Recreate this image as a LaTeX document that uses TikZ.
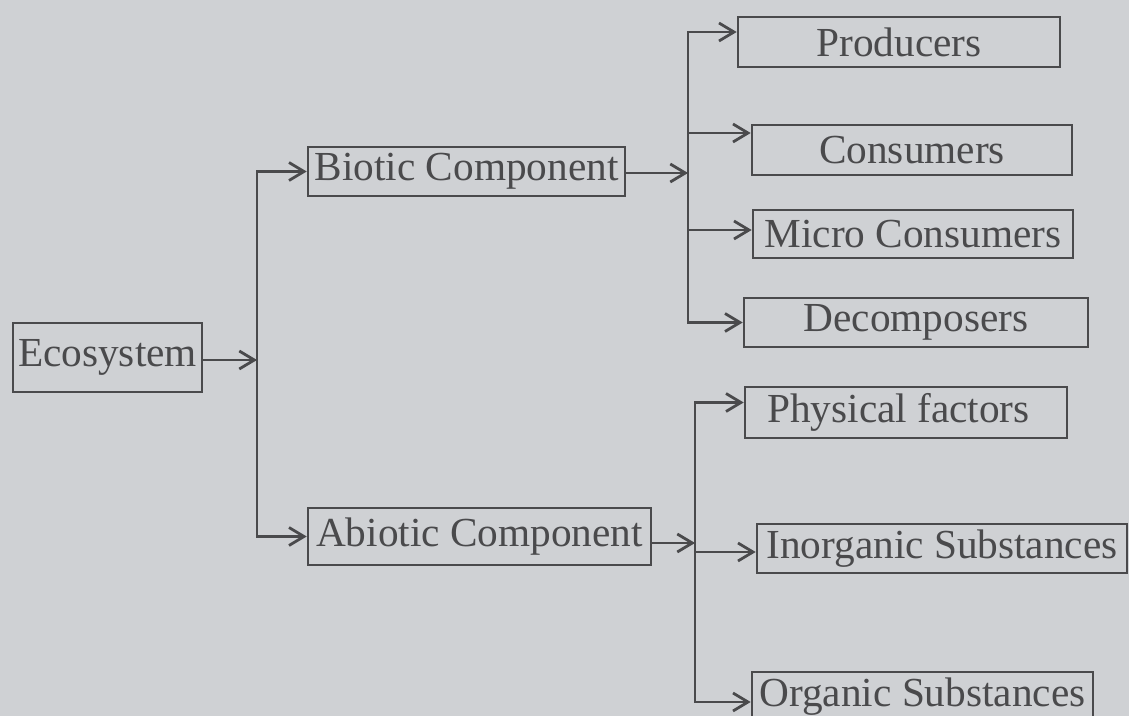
\documentclass[tikz,border=0pt]{standalone}
\usepackage{fontspec}
\setmainfont{Liberation Serif}
\usetikzlibrary{arrows.meta}
\definecolor{paper}{RGB}{207,209,212}
\definecolor{ink}{RGB}{74,74,76}
\tikzset{
  box/.style={draw=ink, line width=1.5pt, text=ink, inner sep=0pt, font=\fontsize{23.5}{28}\selectfont},
  arr/.style={draw=ink, line width=1.6pt, -{Straight Barb[length=0.3cm,width=0.36cm,line width=1.6pt]}}
}
\begin{document}
\begin{tikzpicture}[x=0.02cm,y=-0.02cm]
\fill[paper] (0,0) rectangle (1129,716);
\useasboundingbox (0,0) rectangle (1129,716);
% nodes
\node[box, minimum width=3.78cm, minimum height=1.38cm] (eco) at (107.5,357.5) {Ecosystem};
\node[box, minimum width=6.34cm, minimum height=0.98cm] (bio) at (466.5,171.5) {Biotic Component};
\node[box, minimum width=6.86cm, minimum height=1.14cm] (abio) at (479.5,536.5) {Abiotic Component};
\node[box, minimum width=6.44cm, minimum height=1.0cm] (prod) at (899,42) {Producers};
\node[box, minimum width=6.4cm, minimum height=1.0cm] (cons) at (912,150) {Consumers};
\node[box, minimum width=6.4cm, minimum height=0.96cm] (micro) at (913,234) {Micro Consumers};
\node[box, minimum width=6.88cm, minimum height=0.98cm] (decomp) at (916,322.5) {Decomposers};
\node[box, minimum width=6.44cm, minimum height=1.02cm] (phys) at (906,412.5) {\hspace{-0.3cm}Physical factors};
\node[box, minimum width=7.4cm, minimum height=0.98cm] (inorg) at (942,548.5) {Inorganic Substances};
\node[box, minimum width=6.82cm, minimum height=1.0cm] (org) at (922.5,697) {Organic Substances};
% bus coordinates
\coordinate (lb) at (257,0);
\coordinate (rb) at (688,0);
\coordinate (rc) at (695,0);
% left tree
\draw[arr] ([yshift=-0.05cm]eco.east) -- ([yshift=-0.05cm]eco.east -| lb);
\draw[arr] (lb |- eco.east) |- (bio.west);
\draw[arr] (lb |- eco.east) |- (abio.west);
% biotic tree
\draw[arr] ([yshift=-0.03cm]bio.east) -- ([yshift=-0.03cm]bio.east -| rb);
\draw[arr] (rb |- bio.east) |- ([yshift=0.2cm]prod.west);
\draw[arr] (rb |- bio.east) |- ([yshift=0.34cm]cons.west);
\draw[arr] (rb |- bio.east) |- ([yshift=0.08cm]micro.west);
\draw[arr] (rb |- bio.east) |- (decomp.west);
% abiotic tree
\draw[arr] ([yshift=-0.13cm]abio.east) -- ([yshift=-0.13cm]abio.east -| rc);
\draw[arr] (rc |- abio.east) |- ([yshift=0.2cm]phys.west);
\draw[arr] (rc |- abio.east) |- ([yshift=-0.07cm]inorg.west);
\draw[arr] (rc |- abio.east) |- ([yshift=-0.1cm]org.west);
\end{tikzpicture}
\end{document}
